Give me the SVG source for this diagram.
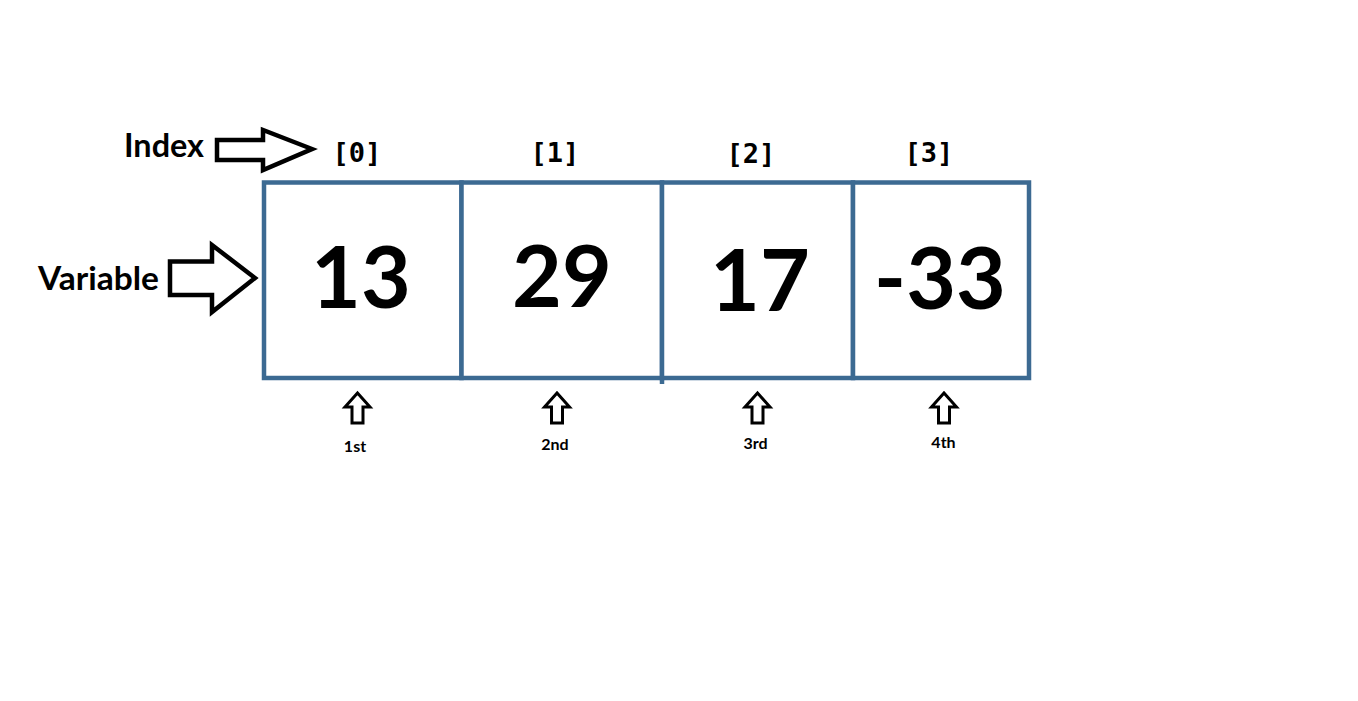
<svg xmlns="http://www.w3.org/2000/svg" width="1358" height="701" viewBox="0 0 1358 701">
<style>
.cell{fill:#ffffff;stroke:#3c6a92;stroke-width:4.5}
.val{font-family:Lato,"Open Sans",sans-serif;font-weight:700;font-size:86px;fill:#000;text-anchor:middle}
.idx{font-family:"DejaVu Sans Mono","Liberation Mono",monospace;font-weight:700;font-size:27px;fill:#000;text-anchor:middle}
.lbl{font-family:Lato,"Open Sans",sans-serif;font-weight:700;font-size:32px;fill:#000}
.ord{font-family:Lato,"Open Sans",sans-serif;font-weight:700;font-size:16px;fill:#000;text-anchor:middle}
.arr{fill:#fff;stroke:#000;stroke-width:4.5;stroke-linejoin:miter}
.sarr{fill:#fff;stroke:#000;stroke-width:3;stroke-linejoin:miter}
</style>
<rect width="1358" height="701" fill="#fff"/>
<g id="cell0"><rect class="cell" x="264" y="182.5" width="197.5" height="195.5"/><text class="val" x="361" y="308">13</text></g>
<g id="cell1"><rect class="cell" x="461.5" y="182.5" width="200.5" height="195.5"/><text class="val" x="562" y="307">29</text></g>
<g id="cell2"><rect class="cell" x="662" y="182.5" width="191" height="195.5"/><line x1="662" y1="378" x2="662" y2="384" stroke="#3c6a92" stroke-width="4.5"/><text class="val" x="760" y="311">17</text></g>
<g id="cell3"><rect class="cell" x="853" y="182.5" width="176" height="195.5"/><text class="val" x="940" y="309">-33</text></g>
<g id="idx0"><text class="idx" x="357" y="162">[0]</text></g>
<g id="idx1"><text class="idx" x="555" y="162">[1]</text></g>
<g id="idx2"><text class="idx" x="751" y="163">[2]</text></g>
<g id="idx3"><text class="idx" x="929" y="162">[3]</text></g>
<g id="label-index"><text class="lbl" x="124" y="157" textLength="80" lengthAdjust="spacingAndGlyphs">Index</text></g>
<g id="label-variable"><text class="lbl" x="38" y="290" textLength="121" lengthAdjust="spacingAndGlyphs">Variable</text></g>
<g id="connectors">
<polygon class="arr" points="217,140 263,140 263,130 312,149 263,170 263,160 217,160"/>
<polygon class="arr" points="170,261.5 212,261.5 212,245 255,278 212,312 212,295 170,295"/>
<polygon class="sarr" points="357.5,393 370,407 363,407 363,423 352,423 352,407 345,407"/>
<polygon class="sarr" points="557,393 569.5,407 562.5,407 562.5,423 551.5,423 551.5,407 544.5,407"/>
<polygon class="sarr" points="757.5,393 770,407 763,407 763,423 752,423 752,407 745,407"/>
<polygon class="sarr" points="944,393 956.5,407 949.5,407 949.5,423 938.5,423 938.5,407 931.5,407"/>
</g>
<g id="ord1"><text class="ord" x="355" y="452">1st</text></g>
<g id="ord2"><text class="ord" x="555" y="450">2nd</text></g>
<g id="ord3"><text class="ord" x="755.5" y="449">3rd</text></g>
<g id="ord4"><text class="ord" x="943.5" y="448">4th</text></g>
</svg>
